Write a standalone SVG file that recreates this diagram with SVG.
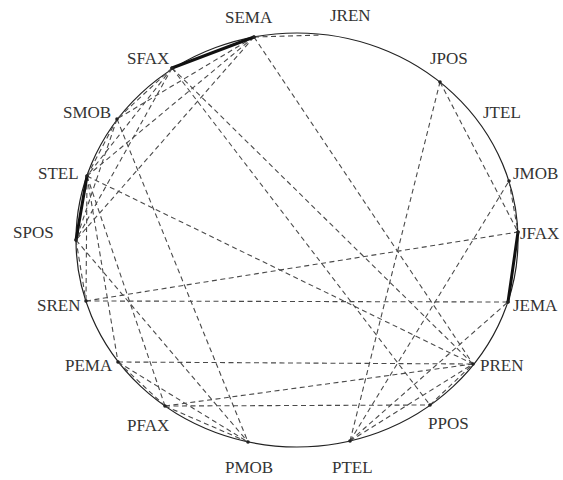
<svg xmlns="http://www.w3.org/2000/svg" width="563" height="480" viewBox="0 0 563 480">
<style>
.lbl{font-family:"Liberation Serif","Times New Roman",serif;font-size:17px;fill:#333}
.d{stroke:#4a4a4a;stroke-width:1.1;stroke-dasharray:5 3.5;fill:none}
.t{stroke:#111;stroke-width:3;fill:none;stroke-linecap:round}
.dot{fill:#222}
</style>
<rect width="563" height="480" fill="#fff"/>
<ellipse cx="297" cy="240" rx="221" ry="207" fill="none" stroke="#222" stroke-width="1.2"/>
<g id="connectors">
<line class="d" x1="254" y1="37" x2="322" y2="35"/>
<line class="d" x1="254" y1="37" x2="117" y2="119"/>
<line class="d" x1="254" y1="37" x2="87" y2="176"/>
<line class="d" x1="254" y1="37" x2="76" y2="240"/>
<line class="d" x1="254" y1="37" x2="473" y2="364"/>
<line class="d" x1="172" y1="68" x2="117" y2="119"/>
<line class="d" x1="172" y1="68" x2="87" y2="176"/>
<line class="d" x1="172" y1="68" x2="76" y2="240"/>
<line class="d" x1="172" y1="68" x2="473" y2="364"/>
<line class="d" x1="172" y1="68" x2="430" y2="405"/>
<line class="d" x1="117" y1="119" x2="87" y2="176"/>
<line class="d" x1="117" y1="119" x2="76" y2="240"/>
<line class="d" x1="117" y1="119" x2="248" y2="442"/>
<line class="d" x1="87" y1="176" x2="473" y2="364"/>
<line class="d" x1="87" y1="176" x2="118" y2="362"/>
<line class="d" x1="87" y1="176" x2="165" y2="406"/>
<line class="d" x1="87" y1="176" x2="86" y2="301"/>
<line class="d" x1="76" y1="240" x2="86" y2="301"/>
<line class="d" x1="76" y1="240" x2="248" y2="442"/>
<line class="d" x1="86" y1="301" x2="518" y2="232"/>
<line class="d" x1="86" y1="301" x2="508" y2="302"/>
<line class="d" x1="118" y1="362" x2="473" y2="364"/>
<line class="d" x1="118" y1="362" x2="165" y2="406"/>
<line class="d" x1="118" y1="362" x2="248" y2="442"/>
<line class="d" x1="165" y1="406" x2="248" y2="442"/>
<line class="d" x1="165" y1="406" x2="473" y2="364"/>
<line class="d" x1="165" y1="406" x2="430" y2="405"/>
<line class="d" x1="430" y1="405" x2="473" y2="364"/>
<line class="d" x1="350" y1="441" x2="440" y2="82"/>
<line class="d" x1="350" y1="441" x2="509" y2="181"/>
<line class="d" x1="350" y1="441" x2="508" y2="302"/>
<line class="d" x1="350" y1="441" x2="473" y2="364"/>
<line class="d" x1="440" y1="82" x2="518" y2="232"/>
<line class="d" x1="509" y1="181" x2="518" y2="232"/>
<line class="t" x1="254" y1="37" x2="172" y2="68"/>
<line class="t" x1="87" y1="176" x2="76" y2="240"/>
<line class="t" x1="518" y1="232" x2="508" y2="302"/>
</g>
<g id="SEMA"><circle class="dot" cx="254" cy="37" r="1.8"/><text class="lbl" x="225" y="23">SEMA</text></g>
<g id="JREN"><text class="lbl" x="330" y="21">JREN</text></g>
<g id="JPOS"><circle class="dot" cx="440" cy="82" r="1.8"/><text class="lbl" x="430" y="64">JPOS</text></g>
<g id="JTEL"><text class="lbl" x="483" y="118">JTEL</text></g>
<g id="JMOB"><circle class="dot" cx="509" cy="181" r="1.8"/><text class="lbl" x="513" y="179">JMOB</text></g>
<g id="JFAX"><circle class="dot" cx="518" cy="232" r="1.8"/><text class="lbl" x="520" y="239">JFAX</text></g>
<g id="JEMA"><circle class="dot" cx="508" cy="302" r="1.8"/><text class="lbl" x="513" y="311">JEMA</text></g>
<g id="PREN"><circle class="dot" cx="473" cy="364" r="1.8"/><text class="lbl" x="480" y="371">PREN</text></g>
<g id="PPOS"><circle class="dot" cx="430" cy="405" r="1.8"/><text class="lbl" x="428" y="429">PPOS</text></g>
<g id="PTEL"><circle class="dot" cx="350" cy="441" r="1.8"/><text class="lbl" x="332" y="473">PTEL</text></g>
<g id="PMOB"><circle class="dot" cx="248" cy="442" r="1.8"/><text class="lbl" x="225" y="473">PMOB</text></g>
<g id="PFAX"><circle class="dot" cx="165" cy="406" r="1.8"/><text class="lbl" x="127" y="431">PFAX</text></g>
<g id="PEMA"><circle class="dot" cx="118" cy="362" r="1.8"/><text class="lbl" x="65" y="371">PEMA</text></g>
<g id="SREN"><circle class="dot" cx="86" cy="301" r="1.8"/><text class="lbl" x="37" y="311">SREN</text></g>
<g id="SPOS"><circle class="dot" cx="76" cy="240" r="1.8"/><text class="lbl" x="13" y="238">SPOS</text></g>
<g id="STEL"><circle class="dot" cx="87" cy="176" r="1.8"/><text class="lbl" x="38" y="179">STEL</text></g>
<g id="SMOB"><circle class="dot" cx="117" cy="119" r="1.8"/><text class="lbl" x="63" y="118">SMOB</text></g>
<g id="SFAX"><circle class="dot" cx="172" cy="68" r="1.8"/><text class="lbl" x="127" y="64">SFAX</text></g>
</svg>
